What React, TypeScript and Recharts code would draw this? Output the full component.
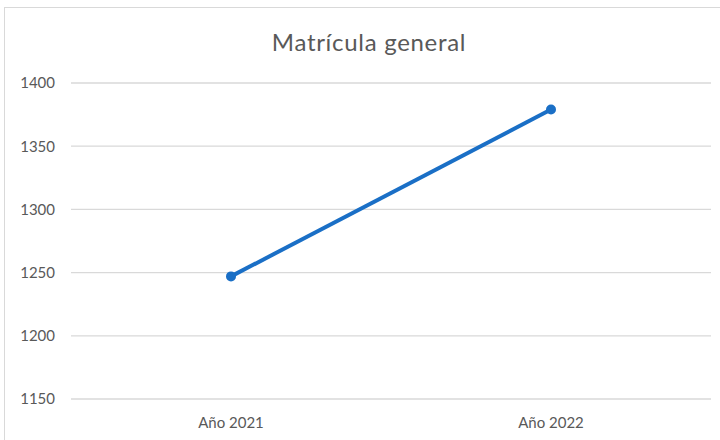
import React from "react";
import { LineChart, Line, XAxis, YAxis, CartesianGrid } from "recharts";

const categories = ["Año 2021", "Año 2022"];
const matricula = [1247, 1379];
const yTicks = [1150, 1200, 1250, 1300, 1350, 1400];
const title = "Matrícula general";

const data = categories.map((c, i) => ({ name: c, value: matricula[i] }));

const FONT = "Lato, 'Open Sans', sans-serif";

export default function App() {
  return (
    <div style={{ position: "absolute", left: 0, top: 0, width: 720, height: 440, overflow: "hidden", background: "#fff", fontFamily: FONT }}>
      <div style={{ position: "absolute", left: 4, top: 7, width: 740, height: 460, border: "1px solid #d9d9d9", boxSizing: "border-box" }} />
      <div style={{ position: "absolute", left: 0, width: 738, top: 26, textAlign: "center", fontSize: 24, letterSpacing: 0.7, color: "#595959", lineHeight: "32px" }}>{title}</div>
      <div style={{ position: "absolute", left: 0, top: 0 }}>
        <LineChart width={720} height={440} data={data} margin={{ top: 83, right: 9, bottom: 11, left: 0 }}>
          <CartesianGrid vertical={false} stroke="#d9d9d9" strokeWidth={1.3} />
          <XAxis dataKey="name" axisLine={false} tickLine={false} tickSize={0} tickMargin={18} height={30}
            padding={{ left: 160, right: 160 }}
            tick={{ fill: "#595959", fontSize: 15, fontFamily: FONT }} />
          <YAxis domain={[1150, 1400]} ticks={yTicks} axisLine={false} tickLine={false} tickSize={0} tickMargin={16} width={71}
            tick={{ fill: "#595959", fontSize: 15, fontFamily: FONT }} />
          <Line type="linear" dataKey="value" stroke="#1a6fc6" strokeWidth={4} isAnimationActive={false}
            dot={{ r: 5, fill: "#1a6fc6", stroke: "#1a6fc6", strokeWidth: 0 }} activeDot={false} />
        </LineChart>
      </div>
    </div>
  );
}
